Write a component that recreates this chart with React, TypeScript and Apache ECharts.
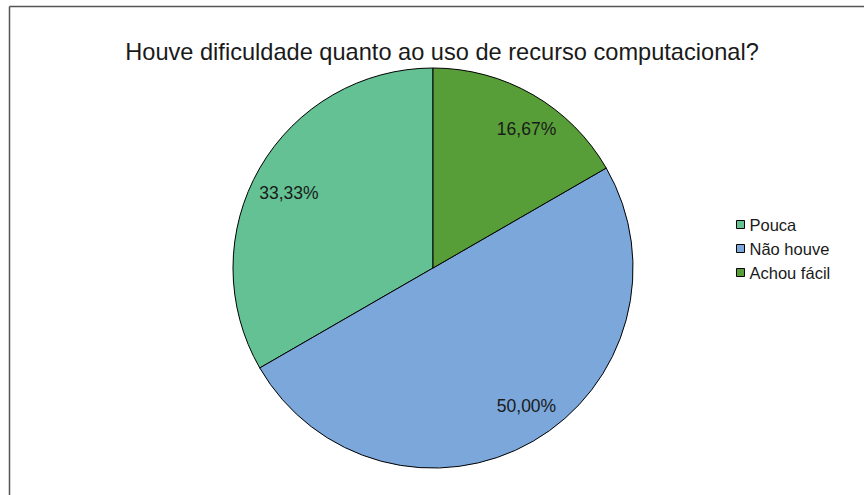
import React, { useEffect, useRef } from "react";
import * as echarts from "echarts";

const categories = ["Pouca", "Não houve", "Achou fácil"];
const values = [33.33, 50.0, 16.67];
const colors = ["#63C194", "#7BA7DA", "#579E38"];
const titleText = "Houve dificuldade quanto ao uso de recurso computacional?";

const FONT = "'Liberation Sans', Arial, sans-serif";
const labelOffsets = [[-3, 7], [12, -3], [12, 2]];

export default function App() {
  const ref = useRef<HTMLDivElement>(null);
  useEffect(() => {
    if (!ref.current) return;
    const chart = echarts.init(ref.current, undefined, { renderer: "svg" });
    const data = categories.map((name, i) => ({
      name,
      value: values[i],
      itemStyle: { color: colors[i] },
    }));
    chart.setOption({
      animation: false,
      backgroundColor: "#ffffff",
      title: {
        text: titleText,
        left: 437,
        top: 35,
        textAlign: "center",
        textStyle: { fontFamily: FONT, fontSize: 23.6, fontWeight: "normal", color: "#1a1a1a" },
      },
      legend: {
        orient: "vertical",
        left: 731,
        top: 211,
        data: categories,
        icon: "rect",
        itemWidth: 8,
        itemHeight: 8,
        itemGap: 7,
        textStyle: { fontFamily: FONT, fontSize: 16.5, color: "#1a1a1a" },
        itemStyle: { borderColor: "#000", borderWidth: 1 },
      },
      graphic: [
        { type: "line", shape: { x1: 9.5, y1: 6.5, x2: 864, y2: 6.5 }, style: { stroke: "#555", lineWidth: 1.5 } },
        { type: "line", shape: { x1: 9.5, y1: 6.5, x2: 9.5, y2: 495 }, style: { stroke: "#555", lineWidth: 1.5 } },
      ],
      series: [
        {
          type: "pie",
          center: [433, 268],
          radius: [0, 200],
          startAngle: 90,
          clockwise: false,
          data,
          label: { show: false },
          labelLine: { show: false },
          itemStyle: { borderColor: "#000", borderWidth: 1 },
          emphasis: { disabled: true },
        },
        {
          type: "pie",
          center: [433, 268],
          radius: [120, 200],
          startAngle: 90,
          clockwise: false,
          silent: true,
          data: categories.map((name, i) => ({
            name,
            value: values[i],
            itemStyle: { color: "transparent", borderWidth: 0 },
            label: { offset: labelOffsets[i] },
          })),
          label: {
            show: true,
            position: "inside",
            fontFamily: FONT,
            fontSize: 17.5,
            color: "#1a1a1a",
            formatter: (p: any) => p.value.toFixed(2).replace(".", ",") + "%",
          },
          labelLine: { show: false },
          emphasis: { disabled: true },
        },
      ],
    });
    return () => chart.dispose();
  }, []);
  return <div ref={ref} style={{ width: 864, height: 495, position: "absolute", left: 0, top: 0 }} />;
}
